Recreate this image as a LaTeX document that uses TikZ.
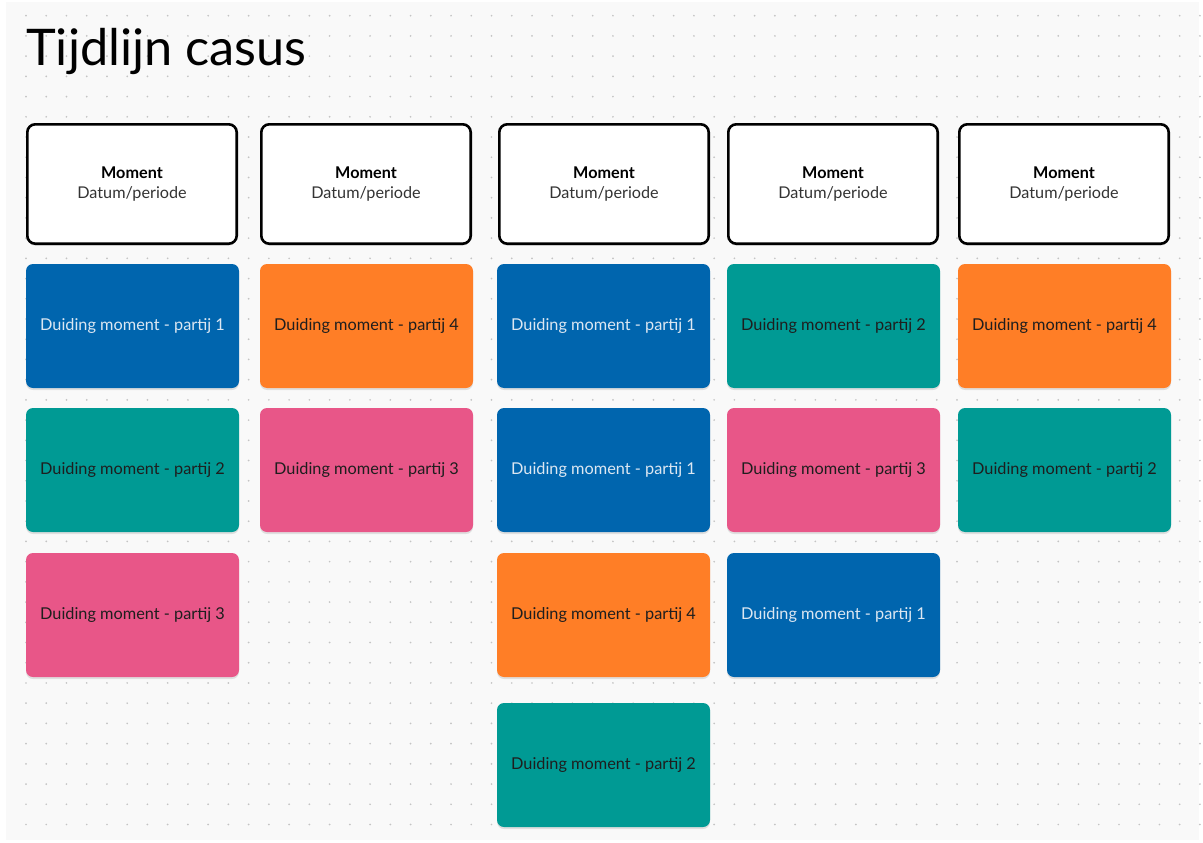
\documentclass[tikz,border=0pt]{standalone}
\usepackage{fontspec}
\setmainfont{Lato}
\usetikzlibrary{shadows}
\definecolor{bgc}{HTML}{F9F9F9}
\definecolor{dotc}{HTML}{C4C4C4}
\definecolor{blueC}{RGB}{0,101,174}
\definecolor{tealC}{RGB}{0,154,148}
\definecolor{orangeC}{RGB}{255,126,38}
\definecolor{pinkC}{RGB}{232,86,136}
\definecolor{lightTxt}{HTML}{DCE7F2}
\definecolor{darkTxt}{HTML}{1E1E1E}
\definecolor{subTxt}{HTML}{333333}
\tikzset{
  shad/.style={drop shadow={shadow xshift=0pt, shadow yshift=-2pt, opacity=0.10, fill=black}},
  hdr/.style={draw=black, line width=2.6pt, fill=white, rounded corners=8pt,
    minimum width=209.4pt, minimum height=119.4pt, inner sep=0pt, align=center,
    font=\fontsize{16.2}{20}\selectfont, shad},
  card/.style={rounded corners=7pt, minimum width=213pt, minimum height=124pt,
    inner sep=0pt, font=\fontsize{16.3}{19}\selectfont, shad},
  p1/.style={card, fill=blueC, text=lightTxt},
  p2/.style={card, fill=tealC, text=darkTxt},
  p3/.style={card, fill=pinkC, text=darkTxt},
  p4/.style={card, fill=orangeC, text=darkTxt},
}
\begin{document}
\begin{tikzpicture}[x=1pt,y=-1pt]
\useasboundingbox (0,0) rectangle (1203,843);
\fill[white] (0,0) rectangle (1203,843);
\fill[bgc] (6,2) rectangle (1199,840);
\foreach \i in {0,...,58}{
  \foreach \j in {0,...,40}{
    \fill[dotc] ({26+20.24*\i},{15.7+20.22*\j}) circle (0.95pt);
  }
}
% title
\node[anchor=base west, inner sep=0pt, font=\fontsize{50.5}{60}\selectfont, text=black] (title) at (26,66) {Tijdlijn casus};
% header boxes
\foreach \n/\cx in {h1/132, h2/366, h3/604, h4/833, h5/1064}{
  \node[hdr] (\n) at (\cx,184) {{\bfseries Moment}\\{\color{subTxt}Datum/periode}};
}
% column 1
\node[p1] (c1r1) at (132.5,326) {Duiding moment - partij 1};
\node[p2] (c1r2) at (132.5,470) {Duiding moment - partij 2};
\node[p3] (c1r3) at (132.5,615) {Duiding moment - partij 3};
% column 2
\node[p4] (c2r1) at (366.5,326) {Duiding moment - partij 4};
\node[p3] (c2r2) at (366.5,470) {Duiding moment - partij 3};
% column 3
\node[p1] (c3r1) at (603.5,326) {Duiding moment - partij 1};
\node[p1] (c3r2) at (603.5,470) {Duiding moment - partij 1};
\node[p4] (c3r3) at (603.5,615) {Duiding moment - partij 4};
\node[p2] (c3r4) at (603.5,765) {Duiding moment - partij 2};
% column 4
\node[p2] (c4r1) at (833.5,326) {Duiding moment - partij 2};
\node[p3] (c4r2) at (833.5,470) {Duiding moment - partij 3};
\node[p1] (c4r3) at (833.5,615) {Duiding moment - partij 1};
% column 5
\node[p4] (c5r1) at (1064.5,326) {Duiding moment - partij 4};
\node[p2] (c5r2) at (1064.5,470) {Duiding moment - partij 2};
\end{tikzpicture}
\end{document}
